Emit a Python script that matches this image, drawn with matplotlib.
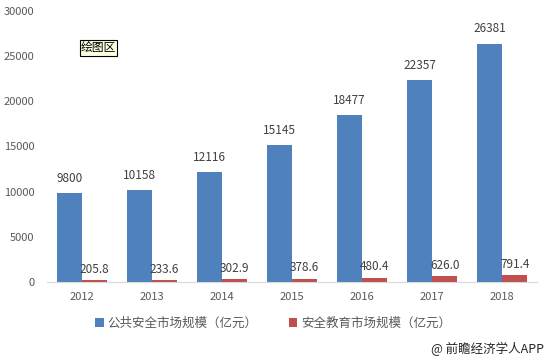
import matplotlib
matplotlib.use('Agg')
import matplotlib.pyplot as plt
import numpy as np

plt.rcParams['font.family'] = ['Noto Sans CJK SC', 'DejaVu Sans']

years = ['2012', '2013', '2014', '2015', '2016', '2017', '2018']
public_safety = [9800, 10158, 12116, 15145, 18477, 22357, 26381]
safety_edu = [205.8, 233.6, 302.9, 378.6, 480.4, 626.0, 791.4]
public_labels = ['9800', '10158', '12116', '15145', '18477', '22357', '26381']
edu_labels = ['205.8', '233.6', '302.9', '378.6', '480.4', '626.0', '791.4']
y_ticks = [0, 5000, 10000, 15000, 20000, 25000, 30000]

blue = '#4F81BD'
red = '#C0504D'
text_color = '#595959'

fig = plt.figure(figsize=(5.46, 3.61), dpi=100)
ax = fig.add_axes([0.086, 0.219, 0.898, 0.751])

x = np.arange(len(years))
w = 0.357
bars1 = ax.bar(x - w / 2, public_safety, w, color=blue, label='公共安全市场规模（亿元）')
bars2 = ax.bar(x + w / 2, safety_edu, w, color=red, label='安全教育市场规模（亿元）')

for bar, lab in zip(bars1, public_labels):
    ax.annotate(lab, (bar.get_x() + bar.get_width() / 2, bar.get_height()),
                xytext=(0, 6), textcoords='offset points', ha='center', va='bottom',
                fontsize=8.5, color='#404040')
for bar, lab in zip(bars2, edu_labels):
    ax.annotate(lab, (bar.get_x() + bar.get_width() / 2, bar.get_height()),
                xytext=(0, 3), textcoords='offset points', ha='center', va='bottom',
                fontsize=8.5, color='#404040')

ax.set_xlim(-0.5, len(years) - 0.5)
ax.set_ylim(0, 30000)
ax.set_yticks(y_ticks)
ax.set_yticklabels([str(t) for t in y_ticks], fontsize=8, color=text_color)
ax.set_xticks(x)
ax.set_xticklabels(years, fontsize=8, color=text_color)
ax.tick_params(axis='both', length=0, pad=7)
ax.tick_params(axis='y', pad=9)
for s in ['top', 'right', 'left']:
    ax.spines[s].set_visible(False)
ax.spines['bottom'].set_color('#D9D9D9')

ax.text(0.069, 0.863, '绘图区', transform=ax.transAxes, fontsize=8.5, color='black', va='center',
        bbox=dict(boxstyle='square,pad=0.1', facecolor='#FFFFE1', edgecolor='black', linewidth=0.8))

fig.legend(handles=[bars1, bars2], loc='center', bbox_to_anchor=(0.5, 0.105), ncol=2,
           frameon=False, fontsize=9, labelcolor=text_color, handlelength=0.7,
           handleheight=0.7, handletextpad=0.3, columnspacing=2.5)

fig.text(0.997, 0.033, '@ 前瞻经济学人APP', ha='right', va='center', fontsize=9, color='#262626')

fig.savefig('out.png', dpi=100)
